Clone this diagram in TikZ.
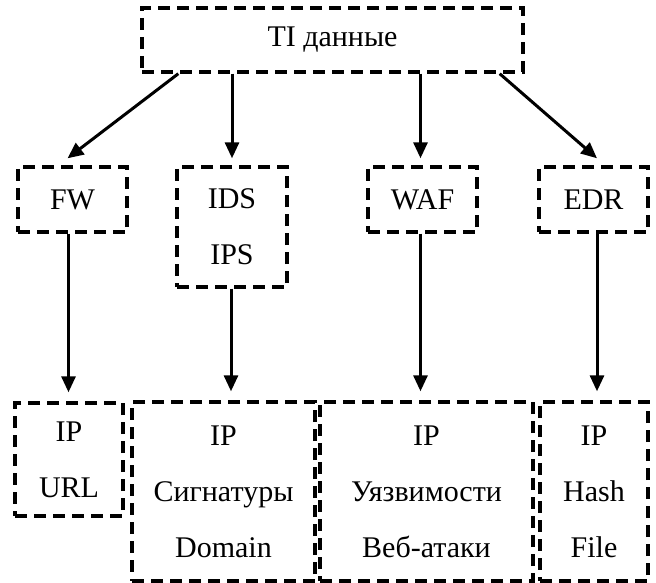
\documentclass[tikz,border=0pt]{standalone}
\usepackage{fontspec}
\setmainfont{Liberation Serif}
\usetikzlibrary{arrows.meta,calc}
\begin{document}
\begin{tikzpicture}[x=1pt,y=-1pt,
  box/.style={draw, line width=3.4pt, dash pattern=on 12pt off 7pt, inner sep=0pt,
    align=center, font=\fontsize{30}{56}\selectfont},
  arr/.style={line width=3pt, -{Triangle[length=16pt,width=14pt]}}]
\useasboundingbox (0,0) rectangle (656,583);
% top
\node[box, minimum width=381pt, minimum height=64pt] (ti) at (332.5,40) {TI данные};
% middle row
\node[box, minimum width=109pt, minimum height=65pt] (fw) at (72.5,199.5) {FW};
\node[box, minimum width=110pt, minimum height=120pt] (ids) at (232,227) {IDS\\IPS};
\node[box, minimum width=109pt, minimum height=65pt] (waf) at (422.5,199.5) {WAF};
\node[box, minimum width=109pt, minimum height=65pt] (edr) at (593.5,199.5) {EDR};
% bottom row
\node[box, minimum width=108pt, minimum height=113pt] (iu) at (69,459.5) {IP\\URL};
\node[box, minimum width=183pt, minimum height=179pt] (sig) at (223.5,491.5) {IP\\Сигнатуры\\Domain};
\node[box, minimum width=213pt, minimum height=179pt] (vul) at (426.5,491.5) {IP\\Уязвимости\\Веб-атаки};
\node[box, minimum width=108pt, minimum height=179pt] (hf) at (594,491.5) {IP\\Hash\\File};
% arrows from top
\draw[arr] ($(ti.south west)+(38,0)$) -- ($(fw.north)+(-5,-7)$);
\draw[arr] (ids.north |- ti.south) -- ($(ids.north)+(0,-7)$);
\draw[arr] ($(waf.north |- ti.south)+(-2,0)$) -- ($(waf.north)+(-2,-7)$);
\draw[arr] ($(ti.south east)+(-25,0)$) -- ($(edr.north)+(3.5,-7)$);
% arrows to bottom
\path ($(fw.south)+(-4,0)$) coordinate (f1);
\path ($(ids.south)+(-1,0)$) coordinate (f2);
\path ($(waf.south)+(-2,0)$) coordinate (f3);
\path ($(edr.south)+(3.5,0)$) coordinate (f4);
\draw[arr, shorten >=9pt] (f1) -- (f1 |- iu.north);
\draw[arr, shorten >=9pt] (f2) -- (f2 |- sig.north);
\draw[arr, shorten >=9pt] (f3) -- (f3 |- vul.north);
\draw[arr, shorten >=9pt] (f4) -- (f4 |- hf.north);
\end{tikzpicture}
\end{document}
